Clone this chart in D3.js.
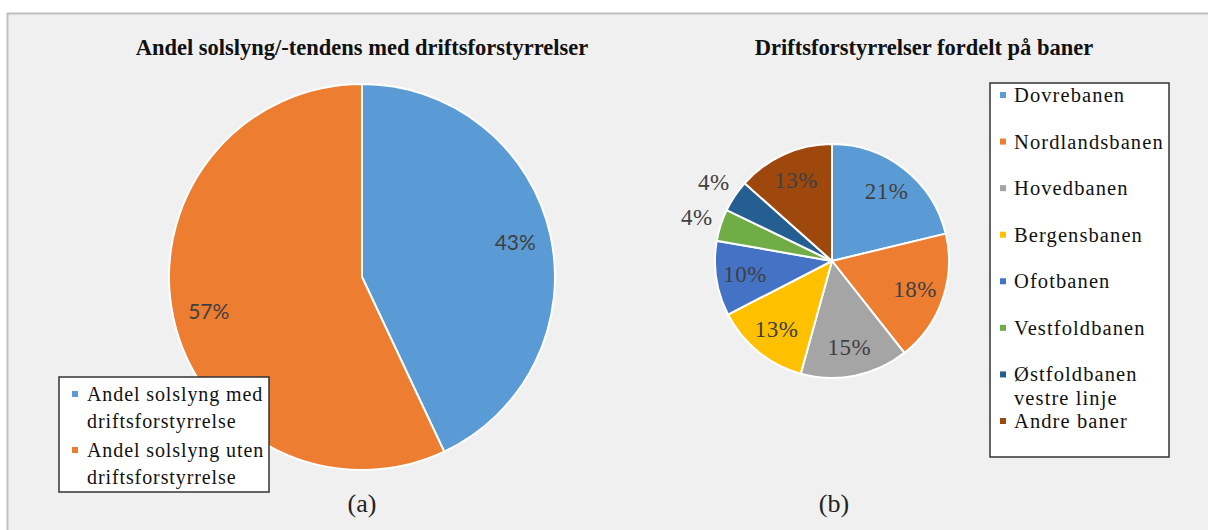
<!DOCTYPE html>
<html>
<head>
<meta charset="utf-8">
<script src="https://cdn.jsdelivr.net/npm/d3@7"></script>
<style>
  body { margin: 0; background: #fff; }
  svg { display: block; }
</style>
</head>
<body>
<div id="chart"></div>
<script>
// left pie (a)
const shareLabels = ["Andel solslyng med driftsforstyrrelse", "Andel solslyng uten driftsforstyrrelse"];
const shareValues = [43, 57];
const shareColors = ["#5b9bd5", "#ed7d31"];

// right pie (b)
const lines = ["Dovrebanen", "Nordlandsbanen", "Hovedbanen", "Bergensbanen", "Ofotbanen",
    "Vestfoldbanen", "Østfoldbanen vestre linje", "Andre baner"];
const lineValues = [21.2, 18.1, 14.9, 13.1, 10.3, 4.4, 4.4, 13.4];
const lineColors = ["#5b9bd5", "#ed7d31", "#a5a5a5", "#ffc000", "#4472c4", "#70ad47", "#255e91", "#9e480e"];

const W = 1208, H = 530;
const SERIF = "'Liberation Serif', 'DejaVu Serif', serif";

const svg = d3.select("#chart").append("svg")
    .attr("width", W)
    .attr("height", H)
    .attr("font-family", SERIF);

// grey panel with border on top/left
svg.append("rect")
    .attr("x", 7.5).attr("y", 13.5)
    .attr("width", W).attr("height", H)
    .attr("fill", "#f0f0f0")
    .attr("stroke", "#bfbfbf")
    .attr("stroke-width", 2);

const pie = d3.pie().sort(null).value(d => d);

function drawPie(cx, cy, r, values, colors, labelFn) {
    let g = svg.append("g").attr("transform", `translate(${cx},${cy})`);
    let arc = d3.arc().innerRadius(0).outerRadius(r);
    let arcs = pie(values);
    g.selectAll("path")
        .data(arcs)
        .enter().append("path")
        .attr("d", arc)
        .attr("fill", (d, i) => colors[i])
        .attr("stroke", "#fff")
        .attr("stroke-width", 2);
    labelFn(g, arcs);
}

// ---- pie (a)
drawPie(362, 277, 193, shareValues, shareColors, (g, arcs) => {
    let lab = d3.arc().innerRadius(157).outerRadius(157);
    g.selectAll("text.lbl")
        .data(arcs)
        .enter().append("text")
        .attr("class", "lbl")
        .attr("transform", d => `translate(${lab.centroid(d)})`)
        .attr("text-anchor", "middle")
        .attr("dy", "0.35em")
        .attr("fill", "#404040")
        .style("font-family", "Lato, 'Open Sans', sans-serif")
        .style("font-size", "21px")
        .text(d => d.data + "%");
});

// ---- pie (b)
drawPie(832, 261, 117, lineValues, lineColors, (g, arcs) => {
    let inner = d3.arc().innerRadius(88).outerRadius(88);
    let outer = d3.arc().innerRadius(142).outerRadius(142);
    g.selectAll("text.lbl")
        .data(arcs)
        .enter().append("text")
        .attr("class", "lbl")
        .attr("transform", d => `translate(${(d.data < 5 ? outer : inner).centroid(d)})`)
        .attr("text-anchor", "middle")
        .attr("dy", "0.33em")
        .attr("fill", "#404040")
        .style("font-family", SERIF)
        .style("font-size", "23px")
        .style("letter-spacing", "0.5px")
        .text(d => Math.round(d.data) + "%");
});

// titles
svg.append("text")
    .attr("x", 362).attr("y", 55)
    .attr("text-anchor", "middle")
    .style("font-family", SERIF)
    .style("font-weight", "bold")
    .style("font-size", "22.5px")
    .attr("fill", "#111")
    .text("Andel solslyng/-tendens med driftsforstyrrelser");

svg.append("text")
    .attr("x", 924).attr("y", 55)
    .attr("text-anchor", "middle")
    .style("font-family", SERIF)
    .style("font-weight", "bold")
    .style("font-size", "22.5px")
    .attr("fill", "#111")
    .text("Driftsforstyrrelser fordelt på baner");

// captions
[["(a)", 362], ["(b)", 834]].forEach(([t, x]) => {
    svg.append("text").attr("x", x).attr("y", 512)
        .attr("text-anchor", "middle")
        .style("font-family", SERIF)
        .style("font-size", "26px").attr("fill", "#222").text(t);
});

// legend (a)
let legA = svg.append("g").attr("transform", "translate(59,377)");
legA.append("rect")
    .attr("width", 210).attr("height", 115)
    .attr("fill", "#fff").attr("stroke", "#333").attr("stroke-width", 1.5);
let legAItems = [["Andel solslyng med", "driftsforstyrrelse"], ["Andel solslyng uten", "driftsforstyrrelse"]];
legAItems.forEach((txt, i) => {
    let y0 = 17 + i * 56;
    legA.append("rect")
        .attr("x", 13).attr("y", y0 - 3).attr("width", 6).attr("height", 6)
        .attr("fill", shareColors[i]);
    txt.forEach((t, j) => {
        legA.append("text")
            .attr("x", 28).attr("y", y0 + 7 + j * 27)
            .style("font-family", SERIF)
            .style("font-size", "20px")
            .style("letter-spacing", "0.9px")
            .attr("fill", "#111")
            .text(t);
    });
});

// legend (b)
let legB = svg.append("g").attr("transform", "translate(990,83)");
legB.append("rect")
    .attr("width", 179).attr("height", 374)
    .attr("fill", "#fff").attr("stroke", "#333").attr("stroke-width", 1.5);
let legY = d3.scalePoint().domain(lines).range([12, 338]);
lines.forEach((name, i) => {
    let y0 = legY(name);
    legB.append("rect")
        .attr("x", 10).attr("y", y0 - 3).attr("width", 6).attr("height", 6)
        .attr("fill", lineColors[i]);
    let parts = name === "Østfoldbanen vestre linje" ? ["Østfoldbanen", "vestre linje"] : [name];
    parts.forEach((t, j) => {
        legB.append("text")
            .attr("x", 24).attr("y", y0 + 7 + j * 24)
            .style("font-family", SERIF)
            .style("font-size", "20.5px")
            .style("letter-spacing", "1.1px")
            .attr("fill", "#111")
            .text(t);
    });
});
</script>
</body>
</html>
